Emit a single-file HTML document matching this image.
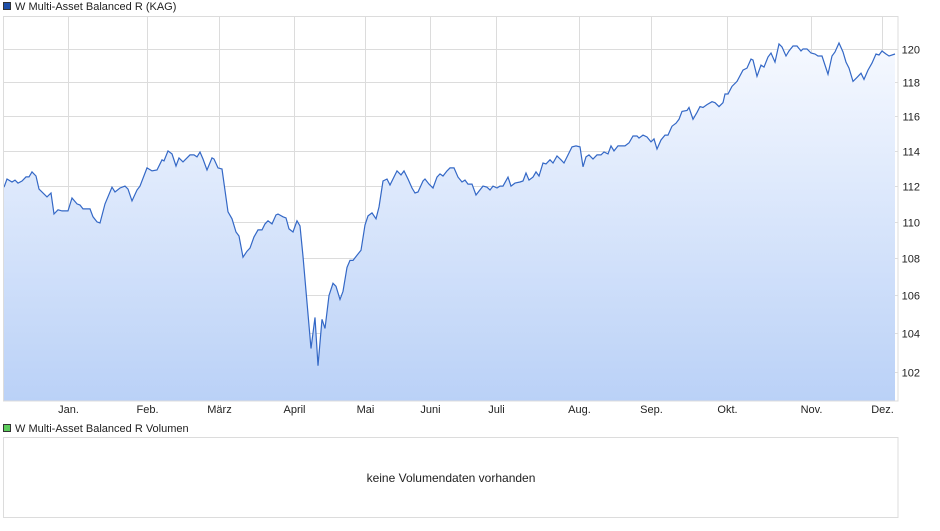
<!DOCTYPE html>
<html><head><meta charset="utf-8"><style>
body{margin:0;background:#fff;font-family:"Liberation Sans",sans-serif;}
svg text{font-family:"Liberation Sans",sans-serif;font-size:11px;fill:#222;}
</style></head><body>
<svg id="chart" width="940" height="526" xmlns="http://www.w3.org/2000/svg">
<defs><linearGradient id="fillg" x1="0" y1="0" x2="0" y2="1">
<stop offset="0" stop-color="#f6f9ff"/><stop offset="1" stop-color="#bad1f7"/></linearGradient></defs>
<rect x="3.5" y="2.5" width="7" height="7" fill="#1e4fa8" stroke="#333" stroke-width="1"/>
<text x="15" y="10">W Multi-Asset Balanced R (KAG)</text>
<g id="grid"></g>
<path id="area" fill="url(#fillg)"/>
<path id="line" fill="none" stroke="#3468c6" stroke-width="1.2"/>
<rect x="3.5" y="16.5" width="894.5" height="384.5" fill="none" stroke="#dcdcdc"/>
<g id="axes"></g>
<rect x="3.5" y="424.5" width="7" height="7" fill="#5ccc5c" stroke="#333"/>
<text x="15" y="432">W Multi-Asset Balanced R Volumen</text>
<rect x="3.5" y="437.5" width="894.5" height="80" fill="#fff" stroke="#dcdcdc"/>
<text x="451" y="482" text-anchor="middle" style="font-size:12px">keine Volumendaten vorhanden</text>
</svg>
<script>
const tradingOffset=[0,3,8,11,14,18,22,25,28,32,35,43,47,50,54,58,64,68,73,76,79,86,89,93,96,101,108,111,116,121,124,128,133,136,143,148,153,158,160,164,168,172,175,179,186,190,193,196,199,203,208,210,214,218,224,228,232,235,239,243,246,250,254,258,261,264,268,272,274,279,282,285,289,293,296,299,303,307,311,314,318,321,325,329,332,336,339,343,346,349,353,357,361,364,368,372,375,379,383,386,393,397,400,404,408,411,414,419,421,425,429,433,436,439,443,446,450,454,458,461,464,468,472,475,479,483,486,489,493,496,499,504,507,511,516,519,522,525,529,532,535,539,542,546,549,553,557,560,568,572,576,579,582,585,589,593,597,600,604,607,610,614,621,625,629,633,635,639,643,647,650,653,657,661,664,668,672,675,678,683,685,689,693,696,699,703,708,711,715,719,721,724,728,733,739,743,747,749,753,757,760,764,767,771,775,778,782,785,789,793,797,799,803,807,811,814,818,824,828,831,835,839,842,845,849,853,857,860,864,868,872,875,878,882,885,891];
const values=[111.94,112.40,112.23,112.34,112.17,112.29,112.52,112.52,112.80,112.57,111.83,111.39,111.61,110.44,110.67,110.61,110.61,111.33,111.00,110.94,110.72,110.72,110.28,110.00,109.94,111.00,111.94,111.67,111.89,112.00,111.83,111.17,111.78,112.00,113.03,112.86,112.91,113.49,113.43,114.00,113.83,113.14,113.60,113.37,113.77,113.77,113.66,113.94,113.54,112.91,113.60,113.54,113.03,112.97,110.56,110.17,109.44,109.22,108.06,108.39,108.56,109.17,109.56,109.56,109.89,110.06,109.89,110.39,110.44,110.28,110.22,109.61,109.44,110.06,109.78,108.11,105.63,103.21,104.84,102.32,104.74,104.26,106.00,106.65,106.49,105.79,106.22,107.51,107.89,107.89,108.17,108.44,109.83,110.33,110.50,110.17,110.83,112.29,112.40,112.06,112.86,112.63,112.86,112.40,111.89,111.61,111.67,112.29,112.40,112.11,111.89,112.51,112.69,112.57,112.86,113.03,113.03,112.51,112.23,112.34,112.11,112.11,111.50,111.72,112.00,111.94,111.78,112.00,111.89,112.00,112.00,112.51,112.00,112.17,112.23,112.29,112.74,112.34,112.51,112.80,112.57,113.31,113.26,113.49,113.31,113.71,113.49,113.31,114.23,114.29,114.23,113.09,113.66,113.77,113.54,113.77,113.77,113.94,113.83,114.29,114.00,114.29,114.29,114.46,114.86,114.86,114.74,114.91,114.80,114.52,114.69,114.11,114.63,114.91,114.91,115.43,115.60,115.83,116.29,116.34,116.52,115.83,116.23,116.57,116.52,116.69,116.86,116.80,116.57,116.80,117.31,117.31,117.77,118.06,118.73,118.85,119.39,119.33,118.36,119.03,118.91,119.52,119.76,119.21,120.30,120.12,119.58,119.88,120.18,120.18,119.88,120.00,120.00,119.76,119.70,119.58,119.58,118.49,119.58,119.82,120.36,119.82,119.21,118.85,118.06,118.30,118.55,118.18,118.73,119.15,119.70,119.64,119.88,119.70,119.58,119.70];
const yTicks=[102,104,106,108,110,112,114,116,118,120];
const monthLabels=["Jan.","Feb.","März","April","Mai","Juni","Juli","Aug.","Sep.","Okt.","Nov.","Dez."];
const monthOffsets=[64,143,215,290,361,426,492,575,647,723,807,878];

const NS="http://www.w3.org/2000/svg";
function xS(d){return 4+d;}
function yS(v){return 49+1987*Math.log(120/v);}
const grid=document.getElementById('grid'),axes=document.getElementById('axes');
function mk(tag,attrs,parent){const e=document.createElementNS(NS,tag);for(const k in attrs)e.setAttribute(k,attrs[k]);parent.appendChild(e);return e;}
yTicks.forEach(v=>{
  const y=Math.round(yS(v))+0.5;
  const l=mk('line',{x1:4,x2:898,y1:y,y2:y,stroke:'#dcdcdc'},grid);
  
  
  const t=mk('text',{x:920,y:y+4,'text-anchor':'end'},axes);t.textContent=v;
  
  
});
monthLabels.forEach((m,i)=>{
  const x=Math.round(xS(monthOffsets[i]))+0.5;
  const l=mk('line',{x1:x,x2:x,y1:16,y2:401,stroke:'#dcdcdc'},grid);
  
  
  const t=mk('text',{x:x,y:413,'text-anchor':'middle'},axes);t.textContent=m;
  
  
});
let d='';
values.forEach((v,i)=>{d+=(i?'L':'M')+xS(tradingOffset[i]).toFixed(1)+','+yS(v).toFixed(1);});
document.getElementById('line').setAttribute('d',d);
const last=xS(tradingOffset[tradingOffset.length-1]).toFixed(1);
document.getElementById('area').setAttribute('d',d+'L'+last+',401L'+xS(tradingOffset[0])+',401Z');
</script>
</body></html>
